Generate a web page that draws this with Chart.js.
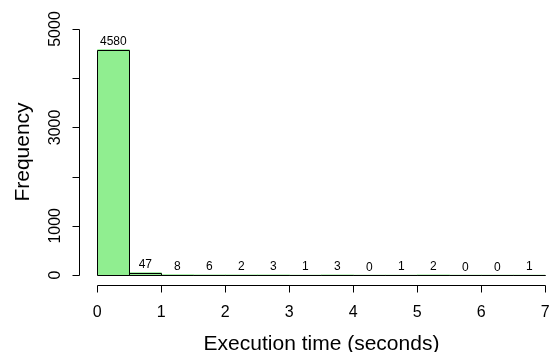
<!DOCTYPE html>
<html>
<head>
<meta charset="utf-8">
<script src="https://cdn.jsdelivr.net/npm/chart.js@4/dist/chart.umd.min.js"></script>
<style>
html,body{margin:0;padding:0;background:#fff;}
#wrap{width:551px;height:352px;position:relative;}
</style>
</head>
<body>
<div id="wrap"><canvas id="c" width="551" height="352"></canvas></div>
<script>
// Histogram bins (seconds) and counts
const binStarts = [0, 0.5, 1, 1.5, 2, 2.5, 3, 3.5, 4, 4.5, 5, 5.5, 6, 6.5];
const binWidth = 0.5;
const counts = [4580, 47, 8, 6, 2, 3, 1, 3, 0, 1, 2, 0, 0, 1];
const xTicks = [0, 1, 2, 3, 4, 5, 6, 7];
const xTickLabels = ["0", "1", "2", "3", "4", "5", "6", "7"];
const yTicks = [0, 1000, 2000, 3000, 4000, 5000];
const yTickLabels = ["0", "1000", "", "3000", "", "5000"];
const xTitle = "Execution time (seconds)";
const yTitle = "Frequency";

const FONT = "'Liberation Sans', Arial, Helvetica, sans-serif";

const axesPlugin = {
  id: 'rAxes',
  afterDatasetsDraw(chart) {
    const ctx = chart.ctx;
    const xs = chart.scales.x, ys = chart.scales.y;
    const area = chart.chartArea;
    ctx.save();
    ctx.strokeStyle = '#000';
    ctx.fillStyle = '#000';
    ctx.lineWidth = 1;

    // crisp bar outlines (R style rect borders) from the bar elements
    const meta = chart.getDatasetMeta(0);
    ctx.beginPath();
    meta.data.forEach((bar) => {
      const l = Math.round(bar.x - bar.width / 2) + 0.5;
      const r = Math.round(bar.x + bar.width / 2) + 0.5;
      const t = Math.round(bar.y) + 0.5;
      const b = Math.round(bar.base) + 0.5;
      ctx.rect(l, t, r - l, b - t);
    });
    ctx.stroke();

    // bar value labels
    ctx.font = '12px ' + FONT;
    ctx.textAlign = 'center';
    ctx.textBaseline = 'alphabetic';
    meta.data.forEach((bar, i) => {
      ctx.fillText(String(counts[i]), bar.x, bar.y - 4.5);
    });

    // x axis
    const yAxisPix = Math.round(area.bottom) + 0.5;
    const x0 = xs.getPixelForValue(xTicks[0]);
    const x1 = xs.getPixelForValue(xTicks[xTicks.length - 1]);
    ctx.beginPath();
    ctx.moveTo(Math.round(x0) + 0.5, yAxisPix);
    ctx.lineTo(Math.round(x1) + 0.5, yAxisPix);
    xTicks.forEach(v => {
      const px = Math.round(xs.getPixelForValue(v)) + 0.5;
      ctx.moveTo(px, yAxisPix);
      ctx.lineTo(px, yAxisPix + 7);
    });
    ctx.stroke();
    ctx.font = '16px ' + FONT;
    ctx.textAlign = 'center';
    ctx.textBaseline = 'alphabetic';
    xTicks.forEach((v, i) => {
      ctx.fillText(xTickLabels[i], xs.getPixelForValue(v), 317);
    });

    // y axis
    const xAxisPix = Math.round(area.left - 17.9) + 0.5;
    const yTop = ys.getPixelForValue(yTicks[yTicks.length - 1]);
    const yBot = ys.getPixelForValue(yTicks[0]);
    ctx.beginPath();
    ctx.moveTo(xAxisPix, Math.round(yTop) + 0.5);
    ctx.lineTo(xAxisPix, Math.round(yBot) + 0.5);
    yTicks.forEach(v => {
      const py = Math.round(ys.getPixelForValue(v)) + 0.5;
      ctx.moveTo(xAxisPix, py);
      ctx.lineTo(xAxisPix - 7, py);
    });
    ctx.stroke();
    ctx.font = '16px ' + FONT;
    yTicks.forEach((v, i) => {
      if (!yTickLabels[i]) return;
      ctx.save();
      ctx.translate(60, ys.getPixelForValue(v));
      ctx.rotate(-Math.PI / 2);
      ctx.textAlign = 'center';
      ctx.textBaseline = 'alphabetic';
      ctx.fillText(yTickLabels[i], 0, 0);
      ctx.restore();
    });

    // titles
    ctx.font = '21px ' + FONT;
    ctx.textAlign = 'center';
    ctx.textBaseline = 'alphabetic';
    ctx.fillText(xTitle, 321.5, 350);
    ctx.save();
    ctx.translate(29, 152);
    ctx.rotate(-Math.PI / 2);
    ctx.fillText(yTitle, 0, 0);
    ctx.restore();
    ctx.restore();
  }
};

new Chart(document.getElementById('c'), {
  type: 'bar',
  data: {
    datasets: [{
      data: binStarts.map((s, i) => ({ x: s + binWidth / 2, y: counts[i] })),
      backgroundColor: '#90EE90',
      borderWidth: 0,
      barPercentage: 1,
      categoryPercentage: 1
    }]
  },
  options: {
    responsive: false,
    animation: false,
    devicePixelRatio: 1,
    layout: { padding: { left: 97.3, right: 5.7, top: 29, bottom: 67 } },
    plugins: { legend: { display: false }, tooltip: { enabled: false } },
    scales: {
      x: { type: 'linear', min: 0, max: 7, offset: false, display: false },
      y: { min: -203, max: 5000, display: false }
    }
  },
  plugins: [axesPlugin]
});
</script>
</body>
</html>
